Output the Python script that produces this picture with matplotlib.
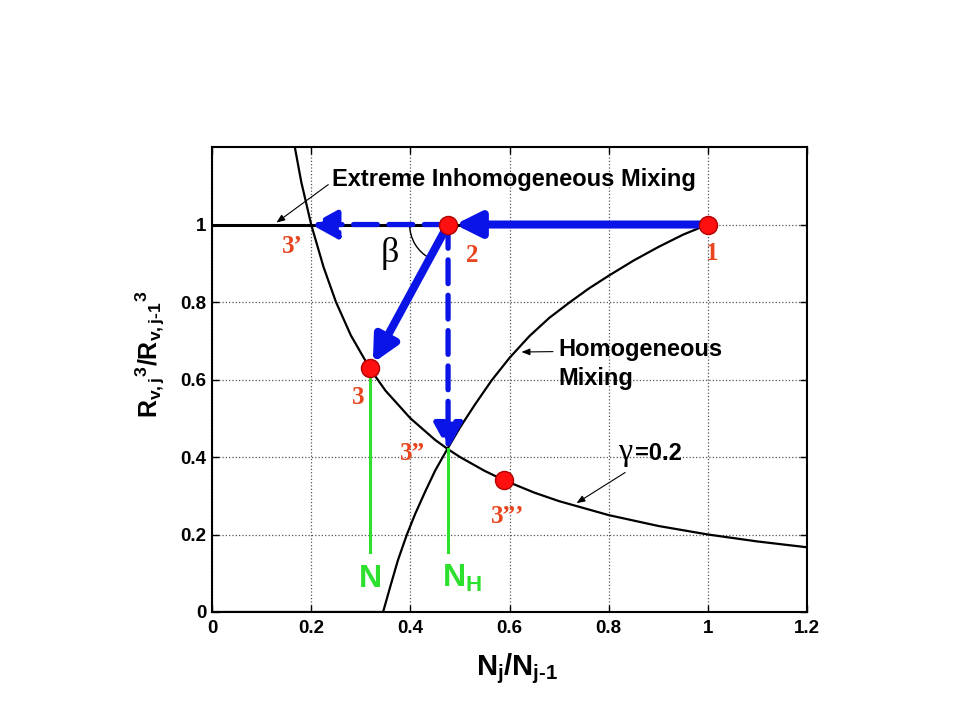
import matplotlib
matplotlib.use("Agg")
import numpy as np
import matplotlib.pyplot as plt
from matplotlib.patches import Arc

# curves
gamma_x = [0.167, 0.18, 0.2, 0.225, 0.25, 0.28, 0.319, 0.35, 0.4, 0.45, 0.476,
           0.5, 0.55, 0.589, 0.65, 0.7, 0.8, 0.9, 1.0, 1.1, 1.2]
gamma_y = [1.2, 1.11, 1.0, 0.89, 0.8, 0.714, 0.627, 0.571, 0.5, 0.444, 0.42,
           0.4, 0.364, 0.34, 0.308, 0.286, 0.25, 0.222, 0.2, 0.182, 0.167]
homog_x = [0.0, 0.345, 0.36, 0.375, 0.393, 0.41, 0.43, 0.45, 0.476, 0.50, 0.53,
           0.564, 0.60, 0.64, 0.68, 0.722, 0.76, 0.80, 0.85, 0.90, 0.95, 1.0]
homog_y = [0.0, 0.0, 0.068, 0.134, 0.20, 0.254, 0.311, 0.365, 0.424, 0.476, 0.535,
           0.598, 0.656, 0.712, 0.759, 0.80, 0.835, 0.868, 0.907, 0.942, 0.974, 1.0]
inhom_x = [0.0, 1.0]
inhom_y = [1.0, 1.0]

# states 1, 2, 3, 3', 3'', 3'''
state_names = ["1", "2", "3", "3\u2019", "3\u201d", "3\u201d\u2019"]
state_x = [1.0, 0.476, 0.319, 0.2, 0.476, 0.589]
state_y = [1.0, 1.0, 0.63, 1.0, 0.42, 0.34]
dot_states = [0, 1, 2, 5]
n_line_bottom = 0.156

ticks = [0, 0.2, 0.4, 0.6, 0.8, 1.0, 1.2]
tick_labels = ["0", "0.2", "0.4", "0.6", "0.8", "1", "1.2"]

BLUE = "#0a14e6"
RED = "#e8441e"
GREEN = "#2ee02e"

plt.rcParams["font.family"] = ["Liberation Sans", "DejaVu Sans"]
plt.rcParams["font.weight"] = "bold"
plt.rcParams["mathtext.fontset"] = "custom"
plt.rcParams["mathtext.rm"] = "Liberation Sans:bold"
plt.rcParams["mathtext.it"] = "Liberation Sans:bold"
plt.rcParams["mathtext.bf"] = "Liberation Sans:bold"

fig = plt.figure(figsize=(9.6, 7.2), dpi=100)
ax = fig.add_axes([0.2208, 0.15, 0.62, 0.6458])
ax.set_xlim(0, 1.2)
ax.set_ylim(0, 1.2)
ax.set_xticks(ticks)
ax.set_xticklabels(tick_labels)
ax.set_yticks(ticks[:-1])
ax.set_yticklabels(tick_labels[:-1])
ax.tick_params(direction="in", top=True, right=True, length=5, width=1,
               labelsize=13.5)
ax.tick_params(axis="x", pad=6)
ax.tick_params(axis="y", pad=4)
ax.grid(True, linestyle=":", color="#555555", linewidth=0.9)
for sp in ax.spines.values():
    sp.set_linewidth(1.5)

# curves
ax.plot(inhom_x, inhom_y, color="black", lw=2.2, zorder=2)
ax.plot(homog_x, homog_y, color="black", lw=1.6, zorder=2)
ax.plot(gamma_x, gamma_y, color="black", lw=1.6, zorder=2)

# green N lines
for i in (2, 4):
    ax.plot([state_x[i], state_x[i]], [state_y[i], n_line_bottom],
            color=GREEN, lw=2.2, zorder=2)

# process arrows
solid = dict(arrowstyle="-|>,head_length=1.0,head_width=0.5", color=BLUE,
             lw=5.8, mutation_scale=15, shrinkA=0)
dashed = dict(arrowstyle="-|>,head_length=1.0,head_width=0.55", color=BLUE,
              lw=3.8, linestyle=(0, (4.5, 2.2)), mutation_scale=16,
              shrinkA=0, shrinkB=0)
ax.annotate("", xy=(state_x[1], state_y[1]), xytext=(state_x[0], state_y[0]),
            arrowprops=dict(solid, shrinkB=5), zorder=3)
ax.annotate("", xy=(state_x[2], state_y[2]), xytext=(state_x[1], state_y[1]),
            arrowprops=dict(solid, shrinkB=4), zorder=3)
ax.annotate("", xy=(state_x[3], state_y[3]), xytext=(state_x[1], state_y[1]),
            arrowprops=dashed, zorder=3)
ax.annotate("", xy=(state_x[4], state_y[4]), xytext=(state_x[1], state_y[1]),
            arrowprops=dashed, zorder=3)

# beta angle arc
ang = np.degrees(np.arctan2(state_y[2] - state_y[1], state_x[2] - state_x[1])) % 360
ax.add_patch(Arc((state_x[1], state_y[1]), 0.155, 0.198, theta1=180, theta2=ang,
                 color="black", lw=1.0, zorder=2))
ax.text(0.359, 0.925, "\u03b2", family="Liberation Serif", fontweight="normal",
        fontsize=26, ha="center", va="center")

# state dots and labels
ax.plot([state_x[i] for i in dot_states], [state_y[i] for i in dot_states], "o",
        ms=13, mfc="#ff1010", mec="#b00000", mew=1.0, zorder=5)
label_pos = [(1.009, 0.925), (0.524, 0.921), (0.294, 0.554), (0.162, 0.942),
             (0.404, 0.408), (0.596, 0.246)]
for name, (lx, ly) in zip(state_names, label_pos):
    ax.text(lx, ly, name, family="Liberation Serif", fontweight="bold",
            fontsize=18, color=RED, ha="center", va="center")

# N labels
ax.text(state_x[2], 0.064, "N", color=GREEN, fontsize=23, ha="center", va="baseline")
ax.text(0.464, 0.064, r"$\mathrm{N}_{\mathrm{H}}$", color=GREEN, fontsize=23,
        ha="left", va="baseline")

# annotations
arrow_thin = dict(arrowstyle="-|>,head_length=0.5,head_width=0.2", color="black",
                  lw=0.8, mutation_scale=10, shrinkA=0, shrinkB=0)
ax.text(0.241, 1.099, "Extreme Inhomogeneous Mixing", fontsize=17,
        ha="left", va="baseline")
ax.annotate("", xy=(0.130, 1.005), xytext=(0.2345, 1.103), arrowprops=arrow_thin)
ax.text(0.698, 0.660, "Homogeneous", fontsize=17, ha="left", va="baseline")
ax.text(0.698, 0.587, "Mixing", fontsize=17, ha="left", va="baseline")
ax.annotate("", xy=(0.624, 0.671), xytext=(0.6875, 0.672), arrowprops=arrow_thin)
ax.text(0.819, 0.391, "\u03b3", family="Liberation Serif", fontweight="normal",
        fontsize=23, ha="left", va="baseline")
ax.text(0.853, 0.391, "=0.2", fontsize=17, ha="left", va="baseline")
ax.annotate("", xy=(0.735, 0.281), xytext=(0.833, 0.360), arrowprops=arrow_thin)

ax.set_xlabel(r"$N_j/N_{j\text{-}1}$", fontsize=21)
ax.xaxis.set_label_coords(0.513, -0.085)
ax.set_ylabel(r"$R_{v,j}{}^{3}/R_{v,j\text{-}1}{}^{3}$", fontsize=18)
ax.yaxis.set_label_coords(-0.076, 0.553)

fig.savefig("out.png", dpi=100)
